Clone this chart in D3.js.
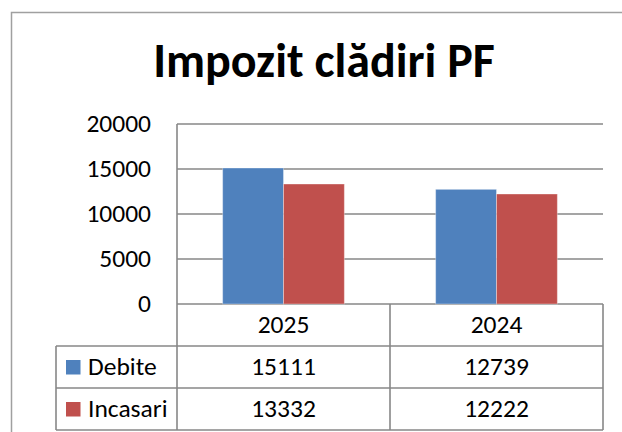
<!DOCTYPE html>
<html>
<head>
<meta charset="utf-8">
<script src="https://cdn.jsdelivr.net/npm/d3@7"></script>
<style>
    body { margin: 0; background: #fff; }
    svg { display: block; font-family: Carlito, Calibri, Lato, sans-serif; }
</style>
</head>
<body>
<div id="chart"></div>
<script>
    // data
    const categories = ["2025", "2024"];
    const seriesNames = ["Debite", "Incasari"];
    const debite = [15111, 12739];
    const incasari = [13332, 12222];
    const yTicks = [0, 5000, 10000, 15000, 20000];
    const colors = ["#4F81BD", "#C0504D"];
    const chartTitle = "Impozit clădiri PF";

    const width = 622;
    const height = 432;
    const plot = { left: 177, right: 603, top: 124, bottom: 304 };
    const rowH = 42;
    const tableLeft = 56;
    const gridColor = "#878787";
    const textSize = 25.5;

    const svg = d3.select("#chart")
        .append("svg")
        .attr("width", width)
        .attr("height", height);

    // outer chart border (runs off the right and bottom of the picture)
    svg.append("rect")
        .attr("x", 11.5)
        .attr("y", 12.5)
        .attr("width", 640)
        .attr("height", 440)
        .attr("fill", "none")
        .attr("stroke", "#a0a0a0")
        .attr("stroke-width", 1.5);

    svg.append("text")
        .attr("x", 324)
        .attr("y", 77)
        .attr("text-anchor", "middle")
        .attr("font-size", 48)
        .attr("font-weight", "bold")
        .attr("fill", "#000")
        .text(chartTitle);

    const x0 = d3.scaleBand()
        .domain(categories)
        .range([plot.left, plot.right])
        .paddingInner(0)
        .paddingOuter(0);

    const x1 = d3.scaleBand()
        .domain(seriesNames)
        .range([0, x0.bandwidth()])
        .paddingInner(0)
        .paddingOuter(0.75);

    const y = d3.scaleLinear()
        .domain([0, 20000])
        .range([plot.bottom, plot.top]);

    // gridlines
    svg.append("g")
        .selectAll("line")
        .data(yTicks)
        .enter()
        .append("line")
        .attr("x1", plot.left)
        .attr("x2", plot.right)
        .attr("y1", d => y(d))
        .attr("y2", d => y(d))
        .attr("stroke", gridColor)
        .attr("stroke-width", 1.4);

    // y axis labels
    const yAxis = svg.append("g")
        .attr("transform", `translate(${plot.left},0)`)
        .call(d3.axisLeft(y).tickValues(yTicks).tickSize(0).tickPadding(26).tickFormat(d3.format("d")));
    yAxis.select(".domain").remove();
    yAxis.selectAll("text")
        .attr("font-size", textSize)
        .attr("font-family", "Carlito, Calibri, Lato, sans-serif")
        .attr("fill", "#000")
        .attr("dy", "0.28em");

    // bars
    const rows = categories.map((c, i) => ({ cat: c, values: [debite[i], incasari[i]] }));
    svg.append("g")
        .selectAll("g")
        .data(rows)
        .enter()
        .append("g")
        .attr("transform", d => `translate(${x0(d.cat)},0)`)
        .selectAll("rect")
        .data(d => d.values.map((v, j) => ({ name: seriesNames[j], value: v, j: j })))
        .enter()
        .append("rect")
        .attr("x", d => x1(d.name))
        .attr("y", d => y(d.value))
        .attr("width", x1.bandwidth())
        .attr("height", d => y(0) - y(d.value))
        .attr("fill", d => colors[d.j])
        .attr("stroke", "#fff")
        .attr("stroke-opacity", 0.35)
        .attr("stroke-width", 1);

    // data table
    const table = svg.append("g")
        .attr("stroke", gridColor)
        .attr("stroke-width", 1.6)
        .attr("fill", "none");

    const tBottom = plot.bottom + rowH * 3;
    // y axis line extended through the table
    table.append("line")
        .attr("x1", plot.left).attr("x2", plot.left)
        .attr("y1", plot.top).attr("y2", tBottom);
    // vertical lines between categories
    categories.forEach(c => {
        table.append("line")
            .attr("x1", x0(c) + x0.bandwidth()).attr("x2", x0(c) + x0.bandwidth())
            .attr("y1", plot.bottom).attr("y2", tBottom);
    });
    table.append("line")
        .attr("x1", tableLeft).attr("x2", tableLeft)
        .attr("y1", plot.bottom + rowH).attr("y2", tBottom);
    [1, 2, 3].forEach(r => {
        table.append("line")
            .attr("x1", tableLeft).attr("x2", plot.right)
            .attr("y1", plot.bottom + rowH * r).attr("y2", plot.bottom + rowH * r);
    });

    svg.append("g")
        .selectAll("text")
        .data(categories)
        .enter()
        .append("text")
        .attr("x", d => x0(d) + x0.bandwidth() / 2)
        .attr("y", plot.bottom + rowH / 2)
        .attr("dy", "0.32em")
        .attr("text-anchor", "middle")
        .attr("font-size", textSize)
        .text(d => d);

    const seriesData = [debite, incasari];
    seriesNames.forEach((name, j) => {
        const cy = plot.bottom + rowH * (j + 1) + rowH / 2;
        svg.append("rect")
            .attr("x", 66)
            .attr("y", cy - 7)
            .attr("width", 14.5)
            .attr("height", 14.5)
            .attr("fill", colors[j]);
        svg.append("text")
            .attr("x", 88)
            .attr("y", cy)
            .attr("dy", "0.32em")
            .attr("font-size", textSize)
            .text(name);
        svg.append("g")
            .selectAll("text")
            .data(categories)
            .enter()
            .append("text")
            .attr("x", d => x0(d) + x0.bandwidth() / 2)
            .attr("y", cy)
            .attr("dy", "0.32em")
            .attr("text-anchor", "middle")
            .attr("font-size", textSize)
            .text((d, i) => seriesData[j][i]);
    });
</script>
</body>
</html>
